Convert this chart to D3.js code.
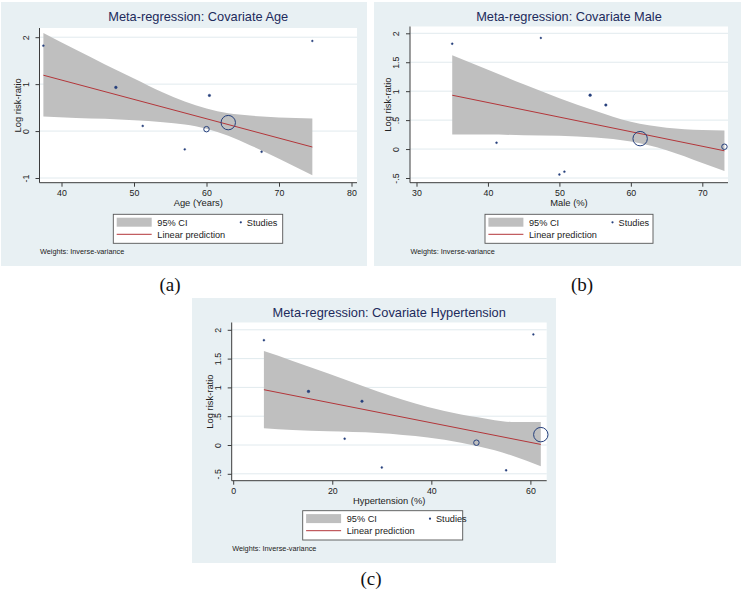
<!DOCTYPE html>
<html>
<head>
<meta charset="utf-8">
<script src="https://cdn.jsdelivr.net/npm/d3@7"></script>
<style>
  html, body { margin: 0; padding: 0; background: #ffffff; }
  svg { display: block; }
</style>
</head>
<body>
<svg id="chart" width="741" height="592"></svg>
<script>
// ---------------- DATA ----------------
// Nine studies: log risk-ratio, relative inverse-variance weight, and covariates
const studyLogRR      = [1.82, 0.93, 0.11, -0.39, 0.04, 0.76, 0.18, -0.44, 1.92];
const studyWeight     = [1, 2, 1, 1, 8, 1.7, 55, 1, 0.7];
const ageYears        = [37.5, 47.5, 51.2, 57.0, 60.0, 60.4, 63.0, 67.6, 74.6];
const malePct         = [35.0, 54.3, 41.2, 50.7, 73.1, 56.5, 61.3, 50.0, 47.4];
const hypertensionPct = [6.2, 15.2, 22.5, 30.0, 49.1, 26.0, 62.1, 55.1, 60.6];

// Linear prediction endpoints
const ageFitX  = [37.5, 74.6];   const ageFitY  = [1.19, -0.34];
const maleFitX = [35.0, 73.1];   const maleFitY = [0.93, -0.03];
const htnFitX  = [6.2, 62.1];    const htnFitY  = [0.96, 0.01];

// 95% CI band (read at several x positions)
const ageBandX  = [37.5, 42, 46, 50, 54, 57, 60, 63, 66, 70, 74.6];
const ageBandHi = [2.09, 1.73, 1.42, 1.12, 0.82, 0.63, 0.48, 0.38, 0.33, 0.29, 0.27];
const ageBandLo = [0.31, 0.28, 0.26, 0.23, 0.19, 0.14, 0.05, -0.10, -0.30, -0.59, -0.94];

const maleBandX  = [35, 40, 45, 50, 55, 60, 65, 70, 73.1];
const maleBandHi = [1.62, 1.37, 1.12, 0.88, 0.66, 0.47, 0.37, 0.33, 0.32];
const maleBandLo = [0.25, 0.25, 0.24, 0.23, 0.20, 0.13, -0.02, -0.24, -0.38];

const htnBandX  = [6.2, 12, 19.2, 29.2, 39.3, 46.0, 49.4, 52.8, 56.1, 62.1];
const htnBandHi = [1.63, 1.46, 1.24, 0.93, 0.66, 0.53, 0.48, 0.43, 0.40, 0.40];
const htnBandLo = [0.29, 0.26, 0.24, 0.21, 0.13, 0.04, -0.02, -0.09, -0.18, -0.37];

// Axis ticks and labels
const ageTicks   = [40, 50, 60, 70, 80];
const maleTicks  = [30, 40, 50, 60, 70];
const htnTicks   = [0, 20, 40, 60];
const yTicksA    = [2, 1, 0, -1];
const yLabelsA   = ["2", "1", "0", "-1"];
const yTicksBC   = [2, 1.5, 1, 0.5, 0, -0.5];
const yLabelsBC  = ["2", "1.5", "1", ".5", "0", "-.5"];

const titles   = ["Meta-regression: Covariate Age", "Meta-regression: Covariate Male", "Meta-regression: Covariate Hypertension"];
const xTitles  = ["Age (Years)", "Male (%)", "Hypertension (%)"];
const captions = ["(a)", "(b)", "(c)"];

// ---------------- STYLE ----------------
const SANS = "'Liberation Sans', Arial, Helvetica, sans-serif";
const SERIF = "'Liberation Serif', 'Times New Roman', serif";
const BG = "#e8f0f3", GRID = "#e1eaee", AXIS = "#3c3c3c", BAND = "#bfbfbf",
      LINE = "#b3363a", MARK = "#253f7c", TITLE = "#1d2b5c", TXT = "#222222";

const svg = d3.select("#chart");

const panels = [
  { bg:{x:1, y:2, w:366, h:264}, plot:{l:39.5, r:357, t:28, b:182.7},
    xd:[40,80], xr:[61.5,351.5], yd:[2,-1], yr:[37.2,178],
    xTicks: ageTicks, yTicks: yTicksA, yLabels: yLabelsA,
    cov: ageYears, fitX: ageFitX, fitY: ageFitY, bx: ageBandX, bhi: ageBandHi, blo: ageBandLo,
    legend:{x:113.3, y:214.3, w:169.4, h:29, dot:127.5},
    cap:{x:170, y:291} },
  { bg:{x:374, y:2, w:367, h:264}, plot:{l:410, r:728, t:26.5, b:182.7},
    xd:[30,70], xr:[416.5,702.3], yd:[2,-0.5], yr:[33.3,178],
    xTicks: maleTicks, yTicks: yTicksBC, yLabels: yLabelsBC,
    cov: malePct, fitX: maleFitX, fitY: maleFitY, bx: maleBandX, bhi: maleBandHi, blo: maleBandLo,
    legend:{x:485, y:214.3, w:168, h:29, dot:127.5},
    cap:{x:582, y:291} },
  { bg:{x:192, y:298, w:364, h:265}, plot:{l:231.7, r:546.7, t:322.5, b:480.7},
    xd:[0,60], xr:[233.2,530.4], yd:[2,-0.5], yr:[329.8,473.8],
    xTicks: htnTicks, yTicks: yTicksBC, yLabels: yLabelsBC,
    cov: hypertensionPct, fitX: htnFitX, fitY: htnFitY, bx: htnBandX, bhi: htnBandHi, blo: htnBandLo,
    legend:{x:302.7, y:510.7, w:160, h:29.3, dot:127.3},
    cap:{x:371, y:585} }
];

const rScale = d3.scaleSqrt().domain([0, d3.max(studyWeight)]).range([0, 7.2]);

panels.forEach((p, i) => {
  const g = svg.append("g").style("font-family", SANS);
  // graph region background
  g.append("rect").attr("x", p.bg.x).attr("y", p.bg.y).attr("width", p.bg.w).attr("height", p.bg.h)
    .attr("fill", BG);
  // plot region
  g.append("rect").attr("x", p.plot.l).attr("y", p.plot.t)
    .attr("width", p.plot.r - p.plot.l).attr("height", p.plot.b - p.plot.t).attr("fill", "#ffffff");

  const x = d3.scaleLinear().domain(p.xd).range(p.xr);
  const y = d3.scaleLinear().domain(p.yd).range(p.yr);

  // gridlines
  g.selectAll(".grid").data(p.yTicks).enter().append("line")
    .attr("x1", p.plot.l).attr("x2", p.plot.r)
    .attr("y1", d => y(d)).attr("y2", d => y(d))
    .attr("stroke", GRID).attr("stroke-width", 1);

  // CI band
  const bandData = p.bx.map((v, k) => ({x: v, lo: p.blo[k], hi: p.bhi[k]}));
  g.append("path").datum(bandData)
    .attr("d", d3.area().x(d => x(d.x)).y0(d => y(d.lo)).y1(d => y(d.hi)).curve(d3.curveMonotoneX))
    .attr("fill", BAND);

  // linear prediction
  const fit = p.fitX.map((v, k) => ({x: v, y: p.fitY[k]}));
  g.append("path").datum(fit)
    .attr("d", d3.line().x(d => x(d.x)).y(d => y(d.y)))
    .attr("fill", "none").attr("stroke", LINE).attr("stroke-width", 1);

  // studies (bubble size = weight)
  const pts = p.cov.map((v, k) => ({x: v, y: studyLogRR[k], w: studyWeight[k]}));
  g.selectAll(".pt").data(pts).enter().append("circle")
    .attr("cx", d => x(d.x)).attr("cy", d => y(d.y))
    .attr("r", d => Math.max(rScale(d.w), 0.9))
    .attr("fill", d => rScale(d.w) < 1.6 ? MARK : "none")
    .attr("stroke", MARK).attr("stroke-width", d => rScale(d.w) < 1.6 ? 0.4 : 1);

  // axes
  const xAxis = d3.axisBottom(x).tickValues(p.xTicks).tickSize(4).tickFormat(d3.format("d"));
  const ax = g.append("g").attr("transform", `translate(0,${p.plot.b})`).call(xAxis);
  ax.select(".domain").attr("d", `M${p.plot.l},0H${p.plot.r}`).attr("stroke", AXIS);
  ax.selectAll(".tick line").attr("stroke", AXIS);
  ax.selectAll(".tick text").attr("fill", TXT).style("font-size", "8.8px")
    .style("font-family", SANS).attr("y", 7.5);

  const yAxis = d3.axisLeft(y).tickValues(p.yTicks).tickSize(4).tickFormat((d, k) => p.yLabels[k]);
  const ay = g.append("g").attr("transform", `translate(${p.plot.l},0)`).call(yAxis);
  ay.select(".domain").attr("d", `M0,${p.plot.t}V${p.plot.b}`).attr("stroke", AXIS);
  ay.selectAll(".tick line").attr("stroke", AXIS);
  ay.selectAll(".tick text").attr("fill", TXT).style("font-size", "8.8px")
    .style("font-family", SANS)
    .attr("x", null).attr("text-anchor", "middle")
    .attr("transform", "translate(-14,0) rotate(-90)").attr("dy", "0.35em");

  // titles
  const cx = (p.plot.l + p.plot.r) / 2;
  g.append("text").attr("x", cx).attr("y", p.bg.y + 15).attr("dy", "0.35em")
    .attr("text-anchor", "middle").style("font-size", "12.8px").attr("fill", TITLE).text(titles[i]);
  g.append("text").attr("x", cx).attr("y", p.plot.b + 20.5).attr("dy", "0.35em")
    .attr("text-anchor", "middle").style("font-size", "9.4px").attr("fill", TXT).text(xTitles[i]);
  g.append("text")
    .attr("transform", `translate(${p.plot.l - 22},${(p.plot.t + p.plot.b) / 2}) rotate(-90)`)
    .attr("dy", "0.35em").attr("text-anchor", "middle").style("font-size", "9.4px").attr("fill", TXT)
    .text("Log risk-ratio");

  // legend
  const L = p.legend;
  const lg = g.append("g").attr("transform", `translate(${L.x},${L.y})`);
  lg.append("rect").attr("width", L.w).attr("height", L.h).attr("fill", "#ffffff")
    .attr("stroke", "#555555").attr("stroke-width", 0.9);
  lg.append("rect").attr("x", 3.4).attr("y", 3.4).attr("width", 35).attr("height", 9).attr("fill", BAND);
  lg.append("text").attr("x", 44).attr("y", 8).attr("dy", "0.35em").style("font-size", "9.2px")
    .attr("fill", TXT).text("95% CI");
  lg.append("circle").attr("cx", L.dot).attr("cy", 8).attr("r", 1.1).attr("fill", MARK);
  lg.append("text").attr("x", L.dot + 6).attr("y", 8).attr("dy", "0.35em").style("font-size", "9.2px")
    .attr("fill", TXT).text("Studies");
  lg.append("line").attr("x1", 3.4).attr("x2", 38.4).attr("y1", 20).attr("y2", 20)
    .attr("stroke", LINE).attr("stroke-width", 1);
  lg.append("text").attr("x", 44).attr("y", 20.5).attr("dy", "0.35em").style("font-size", "9.2px")
    .attr("fill", TXT).text("Linear prediction");

  g.append("text").attr("x", p.plot.l + 0.5).attr("y", L.y + L.h + 8.5).attr("dy", "0.35em")
    .style("font-size", "7.3px").attr("fill", TXT).text("Weights: Inverse-variance");

  // caption
  svg.append("text").attr("x", p.cap.x).attr("y", p.cap.y).attr("text-anchor", "middle")
    .style("font-family", SERIF).style("font-size", "19px")
    .attr("fill", "#111111").text(captions[i]);
});
</script>
</body>
</html>
